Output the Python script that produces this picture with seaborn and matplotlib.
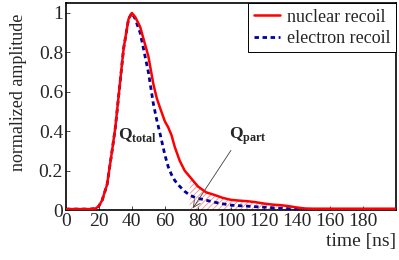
import numpy as np
import pandas as pd
import matplotlib
matplotlib.use('agg')
import matplotlib.pyplot as plt
import seaborn as sns

# pulse shapes
time_ns = [0, 5, 10, 15, 18, 20, 22, 25, 28, 30, 32, 35, 38, 40, 42, 45, 48, 50,
           53, 55, 57, 60, 62, 64, 66, 69, 72, 75, 78, 80, 85, 90, 95, 100, 105,
           110, 115, 120, 125, 130, 135, 140, 145, 150, 160, 170, 180, 190, 200]
nuclear = [.005, .005, .005, .005, .008, .02, .05, .13, .3, .42, .58, .82, .97, 1.0,
           .98, .93, .84, .78, .64, .57, .52, .45, .42, .38, .32, .25, .2, .17, .14,
           .12, .09, .077, .062, .052, .048, .045, .04, .033, .028, .025, .02, .013,
           .008, .007, .007, .007, .007, .007, .007]
electron = [.005, .005, .005, .005, .008, .02, .05, .13, .3, .42, .58, .82, .97, 1.0,
            .97, .9, .78, .7, .54, .46, .39, .28, .22, .18, .15, .12, .095, .076, .065,
            .06, .05, .04, .032, .025, .022, .02, .017, .015, .012, .01, .007, .005,
            .003, .003, .003, .003, .003, .003, .003]
part_start, part_end = 75, 145

xticks = list(range(0, 200, 20))
yticks = [0, 0.2, 0.4, 0.6, 0.8, 1.0]
ytick_labels = ['0', '0.2', '0.4', '0.6', '0.8', '1']

sns.set_style('ticks')
plt.rcParams['font.family'] = ['Liberation Serif', 'DejaVu Serif']
plt.rcParams['mathtext.fontset'] = 'custom'
plt.rcParams['mathtext.rm'] = 'Liberation Serif'
plt.rcParams['mathtext.bf'] = 'Liberation Serif:bold'
plt.rcParams['hatch.linewidth'] = 0.6

df = pd.DataFrame({'t': time_ns, 'nuclear': nuclear, 'electron': electron})

fig = plt.figure(figsize=(3.99, 2.6), dpi=100)
ax = fig.add_axes([0.165, 0.192, 0.8275, 0.796])

# hatched Q_part area
sel = (df.t >= part_start) & (df.t <= part_end)
ax.fill_between(df.t[sel], 0, df.nuclear[sel], facecolor='none', edgecolor='#ff8a8a',
                hatch='//////', linewidth=0, zorder=1)

sns.lineplot(data=df, x='t', y='nuclear', ax=ax, color='red', lw=1.8,
             label='nuclear recoil', zorder=4)
sns.lineplot(data=df, x='t', y='electron', ax=ax, color='#0000a0', lw=2.0,
             linestyle='--', label='electron recoil', zorder=3)
ax.lines[-1].set_dashes((1.6, 1.3))

ax.set_xlim(0, 200)
ax.set_ylim(0, 1.05)
ax.set_xticks(xticks)
ax.set_yticks(yticks)
ax.set_yticklabels(ytick_labels)
ax.tick_params(direction='in', labelsize=14, length=3, width=0.6, pad=2)
for s in ax.spines.values():
    s.set_linewidth(1.2)
    s.set_color('black')

ax.set_xlabel('time [ns]', fontsize=14, loc='right', labelpad=2)
ax.set_ylabel('normalized amplitude', fontsize=13)
ax.yaxis.set_label_coords(-0.118, 0.57)

ax.text(31.5, 0.36, r'$\mathbf{Q}_{\mathbf{total}}$', fontsize=12.5)
ax.annotate(r'$\mathbf{Q}_{\mathbf{part}}$', xy=(77, 0.01), xytext=(99, 0.36),
            fontsize=12.5,
            arrowprops=dict(arrowstyle='->', color='#404040', lw=0.6,
                            shrinkA=0, shrinkB=0, relpos=(0.1, 0.0)))

leg = ax.legend(loc='upper right', fontsize=13, fancybox=False, borderaxespad=0,
                handlelength=1.45, handletextpad=0.4, labelspacing=0.25,
                borderpad=0.3, framealpha=1, edgecolor='black')
leg.get_frame().set_linewidth(0.7)

fig.savefig('out.png', dpi=100)
